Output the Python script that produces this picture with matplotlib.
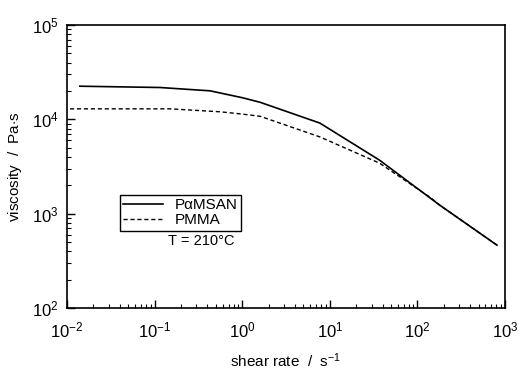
import matplotlib.pyplot as plt

plt.rcParams['font.family'] = ['Liberation Sans', 'DejaVu Sans']
plt.rcParams['mathtext.fontset'] = 'custom'
plt.rcParams['mathtext.rm'] = 'Liberation Sans'
plt.rcParams['mathtext.it'] = 'Liberation Sans:italic'
plt.rcParams['mathtext.default'] = 'rm'

# Data (shear rate in 1/s, viscosity in Pa.s)
pamsan_rate = [0.014, 0.115, 0.43, 1.0, 1.6, 7.7, 37, 181, 811]
pamsan_visc = [22500, 21800, 20100, 17000, 15200, 9150, 3700, 1230, 465]

pmma_rate = [0.0108, 0.15, 0.56, 1.0, 1.6, 7.7, 37, 139, 181, 811]
pmma_visc = [12950, 12950, 12050, 11400, 10800, 6530, 3440, 1500, 1230, 465]

fig = plt.figure(figsize=(5.2, 3.69), dpi=100)
ax = fig.add_axes([0.129, 0.165, 0.842, 0.767])

ax.plot(pamsan_rate, pamsan_visc, color='black', linewidth=1.2, label='P\u03b1MSAN')
ax.plot(pmma_rate, pmma_visc, color='black', linewidth=1.0, linestyle=(0, (3, 2)), label='PMMA')

ax.set_xscale('log')
ax.set_yscale('log')
ax.set_xlim(1e-2, 1e3)
ax.set_ylim(1e2, 1e5)

ax.tick_params(which='both', direction='in', top=False, right=False, labelsize=12)
ax.tick_params(axis='x', which='major', pad=9)
ax.tick_params(axis='y', which='major', pad=6)
ax.tick_params(which='major', length=6, width=1)
ax.tick_params(which='minor', length=3, width=0.8)
for s in ax.spines.values():
    s.set_linewidth(1.2)

ax.set_xlabel('shear rate  /  s$^{-1}$', fontsize=11, labelpad=8)
ax.set_ylabel('viscosity  /  Pa$\\cdot$s', fontsize=11, labelpad=6)

leg = ax.legend(loc='upper left', bbox_to_anchor=(0.121, 0.40), borderaxespad=0,
                fontsize=11, frameon=True, fancybox=False, edgecolor='black',
                framealpha=1, handlelength=2.6, borderpad=0.2, labelspacing=0.1)
leg.get_frame().set_linewidth(1.0)

ax.text(0.307, 0.237, 'T = 210\u00b0C', transform=ax.transAxes, fontsize=10.5,
        ha='center', va='center')

fig.savefig('out.png', dpi=100)
